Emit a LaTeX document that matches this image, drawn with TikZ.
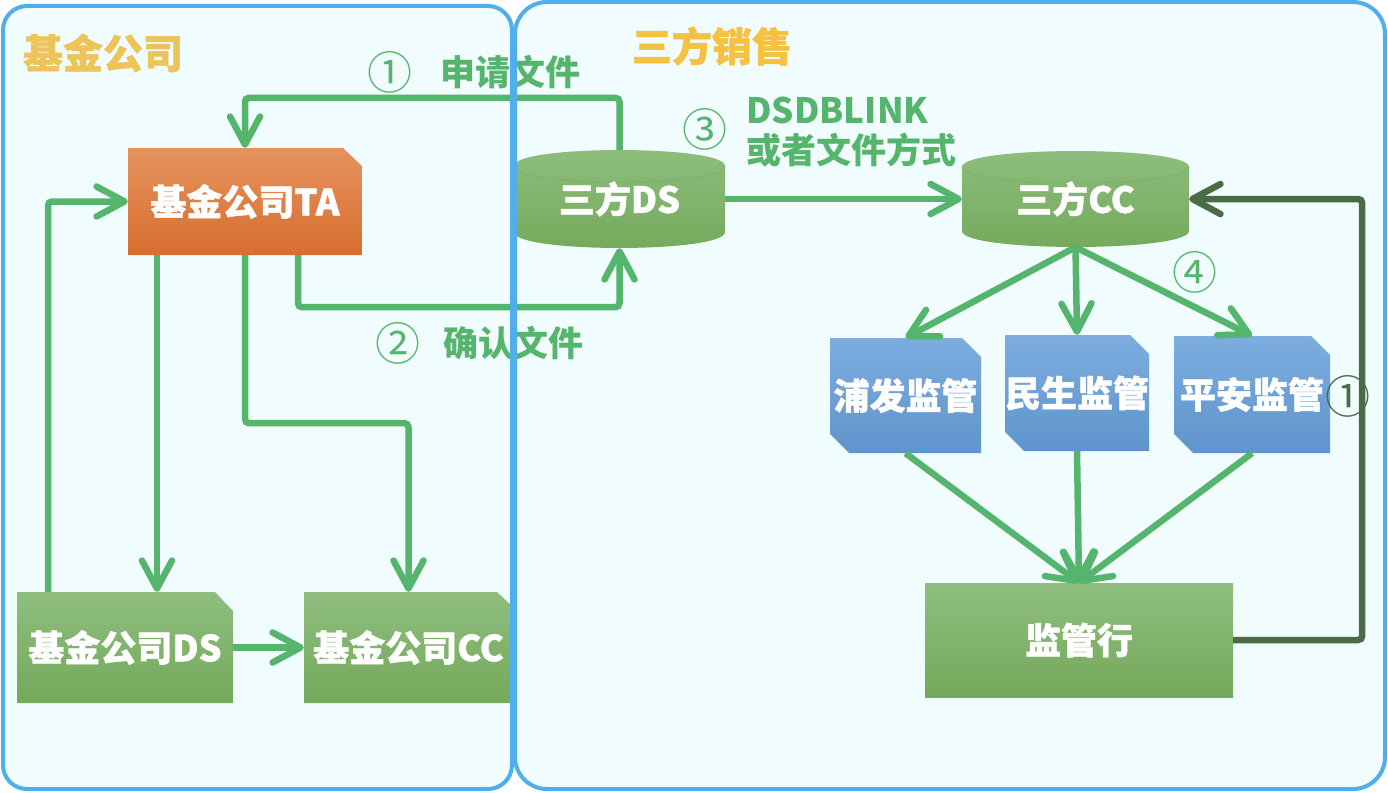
\documentclass[tikz,border=0pt]{standalone}
\usepackage{fontspec}
\setmainfont{Noto Sans CJK SC}
\newfontfamily\heavyfont{Noto Sans CJK SC}[BoldFeatures={FakeBold=1.2}]
\usetikzlibrary{arrows.meta}
\definecolor{panelfill}{HTML}{F0FCFD}
\definecolor{panelline}{HTML}{4FAEEB}
\definecolor{arrowgreen}{HTML}{56B56C}
\definecolor{darkgreen}{HTML}{4A6B43}
\definecolor{gtop}{HTML}{8FBE7E}
\definecolor{gbot}{HTML}{74A95B}
\definecolor{grim}{HTML}{7FB06A}
\definecolor{otop}{HTML}{E6935F}
\definecolor{obot}{HTML}{D76E2E}
\definecolor{btop}{HTML}{7DADDF}
\definecolor{bbot}{HTML}{5E95CC}
\definecolor{titleA}{HTML}{ECC45A}
\definecolor{titleB}{HTML}{F4C140}
\newcommand\boxfont{\heavyfont\bfseries\fontsize{36}{36}\selectfont}
\newcommand\lblfont{\bfseries\fontsize{35}{35}\selectfont}
\newcommand\numfont{\fontsize{45}{45}\selectfont}
\newcommand\ttlfont{\heavyfont\bfseries\fontsize{40}{40}\selectfont}
\begin{document}
\begin{tikzpicture}[x=1pt,y=-1pt,
  flow/.style={draw=arrowgreen, line width=6.5pt, rounded corners=4pt,
    -{Straight Barb[length=28pt,width=30pt,round]}},
  darkflow/.style={flow, draw=darkgreen},
  box/.style={inner sep=0pt, text=white, font=\boxfont},
  lbl/.style={inner sep=0pt, text=arrowgreen, font=\lblfont},
  num/.style={inner sep=0pt, text=arrowgreen, font=\numfont},
  panel/.style={draw=panelline, line width=4pt},
  gshade/.style={top color=gtop, bottom color=gbot},
  oshade/.style={top color=otop, bottom color=obot},
  bshade/.style={top color=btop, bottom color=bbot}]
\fill[white] (0,0) rectangle (1388,792);
\useasboundingbox (0,0) rectangle (1388,792);
% panel fills
\fill[panelfill, rounded corners=24pt] (3,6) rectangle (512,789);
\fill[panelfill, rounded corners=32pt] (515,2) rectangle (1385,789);
% titles
\node[inner sep=0pt, text=titleA, font=\ttlfont] (tA) at (103,53) {基金公司};
\node[inner sep=0pt, text=titleB, font=\ttlfont] (tB) at (712,46) {三方销售};
% shapes
\shade[oshade] (128,148) -- (343,148) -- (362,166) -- (362,255) -- (128,255) -- cycle;
\shade[gshade] (17,592) -- (215,592) -- (233,611) -- (233,703) -- (17,703) -- cycle;
\shade[gshade] (304,592) -- (497,592) -- (513,607) -- (513,703) -- (304,703) -- cycle;
\shade[bshade] (830,338) -- (962,338) -- (981,357) -- (981,453) -- (849,453) -- (830,434) -- cycle;
\shade[bshade] (1005,335) -- (1130,335) -- (1149,354) -- (1149,451) -- (1024,451) -- (1005,432) -- cycle;
\shade[bshade] (1174,336) -- (1311,336) -- (1330,355) -- (1330,453) -- (1193,453) -- (1174,434) -- cycle;
\shade[gshade] (925,583) rectangle (1233,697);
% cylinders
\shade[gshade] (514,166) -- (514,232) .. controls (514,253.3) and (725,253.3) .. (725,232)
  -- (725,166) .. controls (725,144.7) and (514,144.7) .. (514,166) -- cycle;
\draw[grim, line width=0.8pt] (514,166) .. controls (514,187.3) and (725,187.3) .. (725,166);
\shade[gshade] (962,167) -- (962,231) .. controls (962,252.3) and (1189,252.3) .. (1189,231)
  -- (1189,167) .. controls (1189,145.7) and (962,145.7) .. (962,167) -- cycle;
\draw[grim, line width=0.8pt] (962,167) .. controls (962,188.3) and (1189,188.3) .. (1189,167);
% nodes
\node[box, minimum width=234pt, minimum height=107pt] (TA) at (245,201.5) {基金公司TA};
\node[box, minimum width=216pt, minimum height=111pt] (fDS) at (125,647.5) {基金公司DS};
\node[box, minimum width=209pt, minimum height=111pt] (fCC) at (408.5,647.5) {基金公司CC};
\node[box, minimum width=211pt, minimum height=98pt] (tDS) at (619.5,199) {三方DS};
\node[box, minimum width=227pt, minimum height=96pt] (tCC) at (1075.5,199) {三方CC};
\node[box, minimum width=151pt, minimum height=115pt] (pf) at (905.5,395.5) {浦发监管};
\node[box, minimum width=144pt, minimum height=116pt] (ms) at (1077,393) {民生监管};
\node[box, minimum width=156pt, minimum height=117pt] (pa) at (1252,394.5) {平安监管};
\node[box, minimum width=308pt, minimum height=114pt] (jg) at (1079,640) {监管行};
% connectors
\draw[flow] (tDS.north) -- ++(0,-52) -| (TA.north);
\draw[flow] ([xshift=53pt]TA.south) -- ++(0,52) -| (tDS.south);
\draw[flow] ([xshift=-77pt]fDS.north) |- (TA.west);
\draw[flow] ([xshift=-88pt]TA.south) coordinate (a) -- (a |- fDS.north);
\draw[flow] (TA.south) -- ++(0,168) -| (fCC.north);
\draw[flow] (fDS.east) -- (fCC.west);
\draw[flow] (tDS.east) -- (tCC.west);
\draw[flow] (tCC.south) -- (pf.north);
\draw[flow] (tCC.south) -- (ms.north);
\draw[flow] (tCC.south) -- (pa.north);
\draw[flow] (pf.south) -- (jg.north);
\draw[flow] (ms.south) -- (jg.north);
\draw[flow] (pa.south) -- (jg.north);
% labels
\node[num] (n1) at (390,72) {①};
\node[lbl] (l1) at (510,72) {申请文件};
\node[num] (n2) at (398,343) {②};
\node[lbl] (l2) at (513,343) {确认文件};
\node[num] (n3) at (705,129) {③};
\node[lbl, anchor=west] (l3a) at (746,110) {DSDBLINK};
\node[lbl, anchor=west] (l3b) at (746,150) {或者文件方式};
\node[num] (n4) at (1195,272) {④};
\node[num, text=darkgreen] (n5) at (1348,396) {①};
\draw[darkflow] (jg.east) -- ++(129,0) |- (tCC.east);
% panel borders
\draw[panel, rounded corners=24pt] (3,6) rectangle (512,789);
\draw[panel, rounded corners=32pt] (515,2) rectangle (1385,789);
\end{tikzpicture}
\end{document}
